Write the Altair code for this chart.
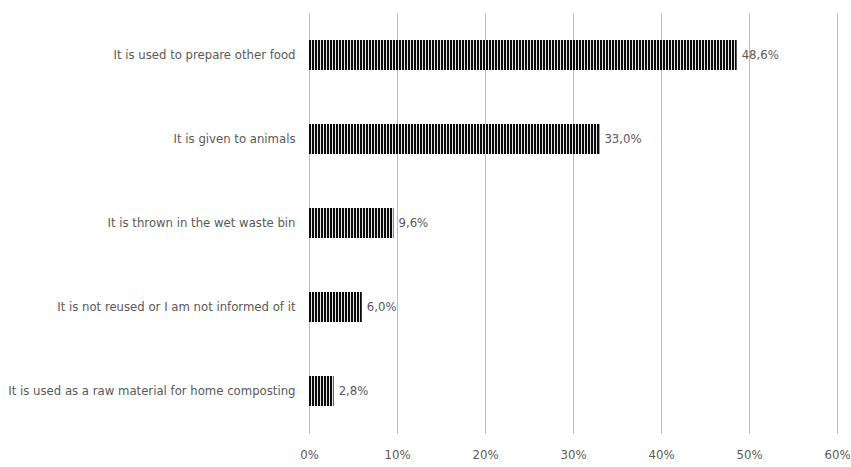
import altair as alt
import pandas as pd

# Survey answers: what happens to leftover bread
categories = [
    "It is used to prepare other food",
    "It is given to animals",
    "It is thrown in the wet waste bin",
    "It is not reused or I am not informed of it",
    "It is used as a raw material for home composting",
]
shares = [48.6, 33.0, 9.6, 6.0, 2.8]
tick_values = [0, 10, 20, 30, 40, 50, 60]

FONT = "DejaVu Sans Condensed, Liberation Sans Narrow, Liberation Sans, sans-serif"
TEXT_GREY = "#595959"
PLOT_W = 528
PLOT_H = 420
X_MAX = 60
BAR_PX = 30

df = pd.DataFrame({"answer": categories, "share": shares})
df["label"] = [f"{v:.1f}".replace(".", ",") + "%" for v in shares]

# Hatching: a thin light line every 3 px inside each bar, laid out in data units
px = X_MAX / PLOT_W
rows = []
for cat, val in zip(categories, shares):
    k = 0
    while (3 * k + 3) * px <= val:
        rows.append({"answer": cat, "pos": (3 * k + 2.5) * px})
        k += 1
hatch = pd.DataFrame(rows)

pad_inner = 1 - BAR_PX / (PLOT_H / len(categories))
x_scale = alt.Scale(domain=[0, X_MAX], nice=False)
y_scale = alt.Scale(paddingInner=pad_inner, paddingOuter=pad_inner / 2)

x_axis = alt.Axis(
    values=tick_values,
    labelExpr="datum.value + '%'",
    title=None,
    domain=False,
    ticks=False,
    grid=True,
    gridColor="#bdbdbd",
    gridWidth=1,
    labelFlush=False,
    labelPadding=15,
    labelFontSize=13,
    labelColor=TEXT_GREY,
    labelFont=FONT,
)
y_axis = alt.Axis(
    title=None,
    domain=False,
    ticks=False,
    labelPadding=14,
    labelLimit=400,
    labelFontSize=13,
    labelColor=TEXT_GREY,
    labelFont=FONT,
    minExtent=304,
    maxExtent=304,
)

bars = alt.Chart(df).mark_bar(color="#0a0a0a").encode(
    x=alt.X("share:Q", scale=x_scale, axis=x_axis),
    y=alt.Y("answer:N", sort=categories, scale=y_scale, axis=y_axis),
)

stripes = (
    alt.Chart(hatch)
    .mark_tick(color="#e8e8e8", thickness=1, size=BAR_PX, opacity=1)
    .encode(
        x=alt.X("pos:Q", scale=x_scale, axis=x_axis),
        y=alt.Y("answer:N", sort=categories, scale=y_scale, axis=y_axis),
    )
)

labels = (
    alt.Chart(df)
    .mark_text(align="left", baseline="middle", dx=5, fontSize=13, font=FONT, color=TEXT_GREY)
    .encode(
        x=alt.X("share:Q", scale=x_scale, axis=x_axis),
        y=alt.Y("answer:N", sort=categories, scale=y_scale, axis=y_axis),
        text="label:N",
    )
)

chart = (
    alt.layer(bars, stripes, labels)
    .properties(
        width=PLOT_W,
        height=PLOT_H,
        padding={"left": 5, "top": 13, "right": 0, "bottom": 5},
        background="white",
    )
    .configure_view(stroke=None)
)

chart.save("out.html", embed_options={"renderer": "svg", "actions": False})
